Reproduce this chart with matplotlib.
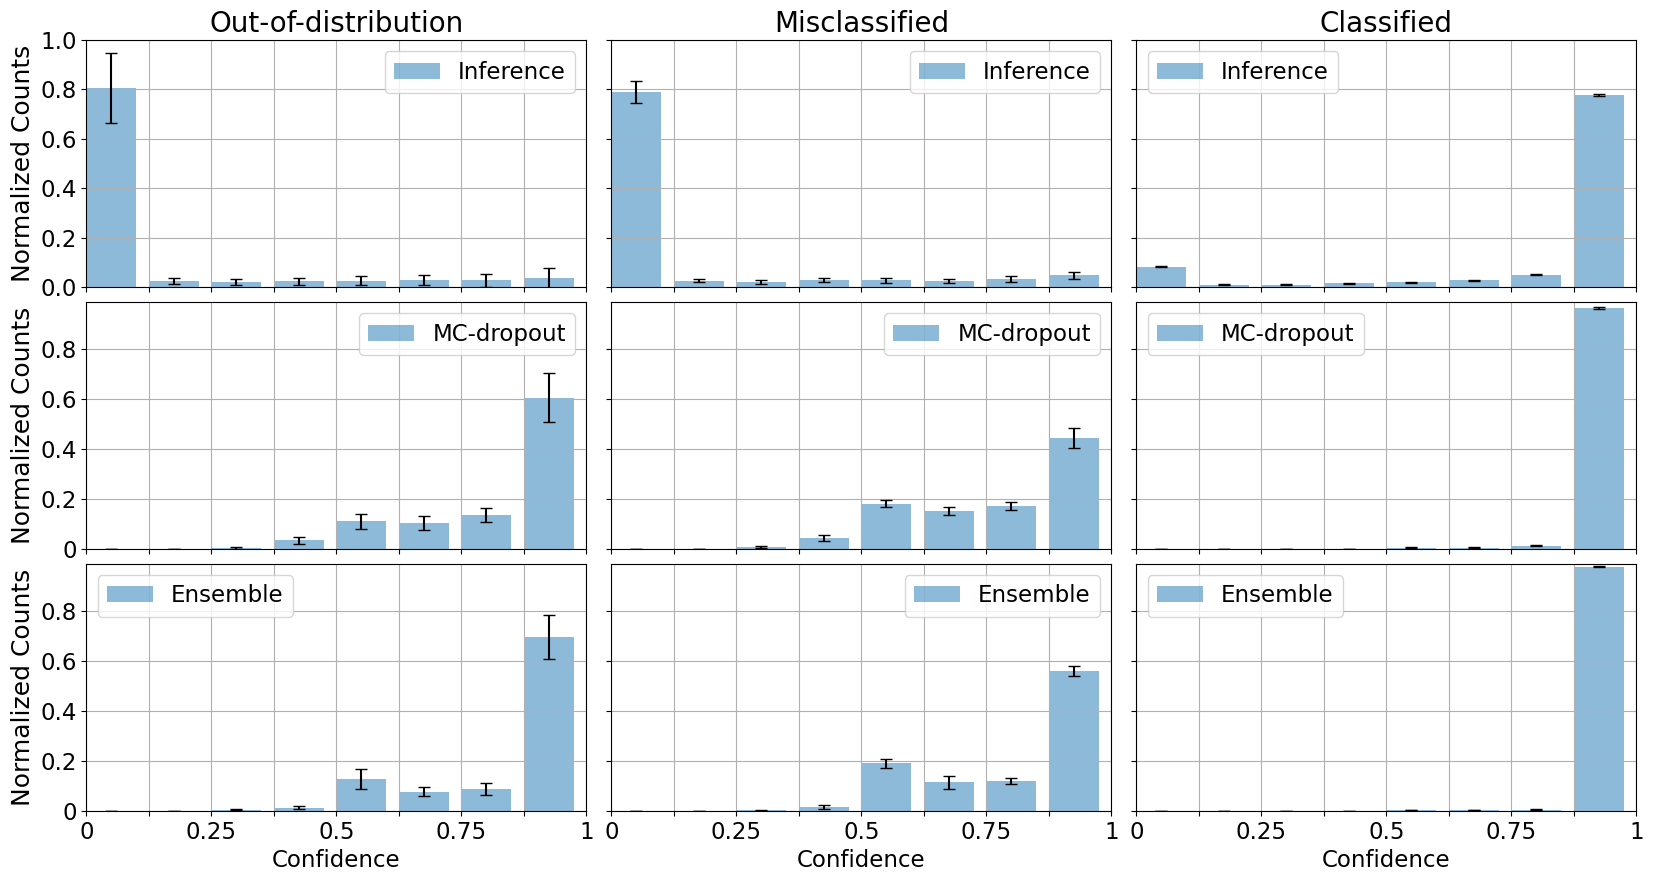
import numpy as np
from matplotlib import pyplot as plt

## DATA  (8 confidence bins of width 0.125)

bin_edges = [0, 0.125, 0.25, 0.375, 0.5, 0.625, 0.75, 0.875]
columns = ['Out-of-distribution', 'Misclassified', 'Classified']
methods = ['Inference', 'MC-dropout', 'Ensemble']

# mean normalized counts, one list per (method, column)
inf_ood = [0.805, 0.025, 0.022, 0.024, 0.025, 0.028, 0.028, 0.036]
inf_mis = [0.790, 0.025, 0.020, 0.028, 0.028, 0.025, 0.033, 0.048]
inf_cls = [0.083, 0.010, 0.010, 0.015, 0.020, 0.027, 0.050, 0.778]
mc_ood = [0.001, 0.001, 0.005, 0.035, 0.112, 0.105, 0.138, 0.607]
mc_mis = [0.000, 0.000, 0.008, 0.045, 0.182, 0.154, 0.174, 0.443]
mc_cls = [0.000, 0.000, 0.000, 0.000, 0.005, 0.006, 0.014, 0.966]
ens_ood = [0.000, 0.000, 0.004, 0.012, 0.129, 0.077, 0.089, 0.697]
ens_mis = [0.000, 0.000, 0.002, 0.015, 0.192, 0.115, 0.121, 0.561]
ens_cls = [0.000, 0.000, 0.000, 0.000, 0.004, 0.004, 0.005, 0.979]

# standard deviations
inf_ood_err = [0.142, 0.013, 0.012, 0.014, 0.018, 0.020, 0.026, 0.040]
inf_mis_err = [0.045, 0.006, 0.007, 0.008, 0.010, 0.008, 0.012, 0.015]
inf_cls_err = [0.003, 0.002, 0.002, 0.002, 0.002, 0.002, 0.002, 0.005]
mc_ood_err = [0.001, 0.001, 0.003, 0.015, 0.030, 0.028, 0.028, 0.100]
mc_mis_err = [0.000, 0.000, 0.004, 0.012, 0.015, 0.016, 0.016, 0.040]
mc_cls_err = [0.000, 0.000, 0.000, 0.000, 0.002, 0.002, 0.002, 0.004]
ens_ood_err = [0.000, 0.000, 0.002, 0.006, 0.040, 0.019, 0.025, 0.090]
ens_mis_err = [0.000, 0.000, 0.002, 0.007, 0.018, 0.027, 0.012, 0.020]
ens_cls_err = [0.000, 0.000, 0.000, 0.000, 0.001, 0.001, 0.001, 0.002]

means = [[inf_ood, inf_mis, inf_cls],
         [mc_ood, mc_mis, mc_cls],
         [ens_ood, ens_mis, ens_cls]]
errs = [[inf_ood_err, inf_mis_err, inf_cls_err],
        [mc_ood_err, mc_mis_err, mc_cls_err],
        [ens_ood_err, ens_mis_err, ens_cls_err]]

legend_loc = [['upper right', 'upper right', 'upper left'],
              ['upper right', 'upper right', 'upper left'],
              ['upper left', 'upper right', 'upper left']]

xticks = np.arange(9) * 0.125
xticklabels = ['0', '', '0.25', '', '0.5', '', '0.75', '', '1']

if __name__ == '__main__':
    fig, axes = plt.subplots(3, 3, figsize=(16.56, 8.81), dpi=100,
                             sharex=True, sharey='row')
    fig.subplots_adjust(left=0.0522, right=0.9882, top=0.9546,
                        bottom=0.0795, wspace=0.05, hspace=0.06)

    width = 0.1
    for i in range(3):
        for j in range(3):
            ax = axes[i, j]
            x = np.array(bin_edges)
            ax.bar(x, means[i][j], width=width, align='edge',
                   color='tab:blue', alpha=0.5, label=methods[i])
            ax.errorbar(x + width / 2, means[i][j], yerr=errs[i][j],
                        fmt='none', ecolor='k', capsize=4, elinewidth=1.5)
            ax.grid()
            ax.set_xlim(0, 1)
            ax.set_xticks(xticks)
            ax.set_xticklabels(xticklabels)
            ax.tick_params(labelsize=16.5)
            ax.legend(loc=legend_loc[i][j], fontsize=16.5)
            if i == 0:
                ax.set_title(columns[j], fontsize=20)
            if j == 0:
                ax.set_ylabel('Normalized Counts', fontsize=18)
            if i == 2:
                ax.set_xlabel('Confidence', fontsize=16.5)

    axes[0, 0].set_ylim(0, 1.0)
    axes[0, 0].set_yticks([0, 0.2, 0.4, 0.6, 0.8, 1.0])
    axes[0, 0].set_yticklabels(['0.0', '0.2', '0.4', '0.6', '0.8', '1.0'])
    for i in (1, 2):
        axes[i, 0].set_ylim(0, 0.99)
        axes[i, 0].set_yticks([0, 0.2, 0.4, 0.6, 0.8])
        axes[i, 0].set_yticklabels(['0', '0.2', '0.4', '0.6', '0.8'])

    fig.savefig('out.png', dpi=100)
